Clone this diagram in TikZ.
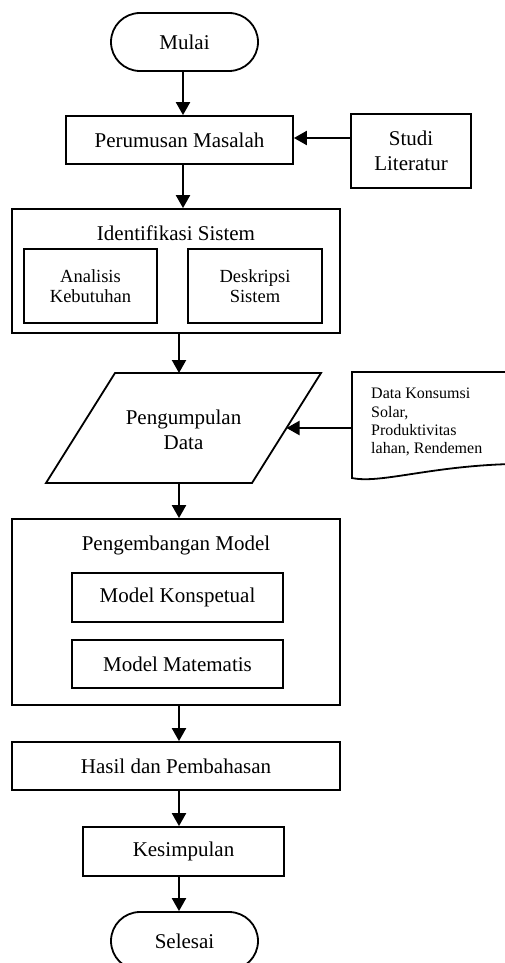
\documentclass[tikz,border=0pt]{standalone}
\usepackage{fontspec}
\setmainfont{Liberation Serif}
\usetikzlibrary{arrows.meta}
\tikzset{
  mainfont/.style={font=\fontsize{21}{25.5}\selectfont},
  box/.style={draw, line width=1.8pt, inner sep=0pt, align=center, mainfont},
  smallbox/.style={draw, line width=1.8pt, inner sep=0pt, align=center, font=\fontsize{18.5}{20.5}\selectfont},
  term/.style={draw, line width=1.8pt, rounded corners=29pt, inner sep=0pt, minimum width=147pt, minimum height=58pt, mainfont},
  txt/.style={inner sep=0pt, align=center, mainfont},
  arr/.style={line width=2.2pt, -{Triangle[length=13pt,width=14pt]}},
  outline/.style={line width=1.8pt, line join=miter}
}
\begin{document}
\begin{tikzpicture}[x=1pt,y=-1pt]
\useasboundingbox (0,0) rectangle (505,963);
\clip (0,0) rectangle (505,963);
\coordinate (ay) at (183,0);
\coordinate (ax) at (179,0);
\coordinate (sy) at (0,138);

\node[term] (mulai) at (184.5,42) {Mulai};
\node[box, minimum width=227pt, minimum height=48pt] (rumus) at (179.5,140) {Perumusan Masalah};
\node[box, minimum width=120pt, minimum height=74pt] (studi) at (411,151) {Studi\\Literatur};

\node[box, minimum width=328pt, minimum height=124pt] (ident) at (176,271) {};
\node[txt] (identT) at (176,233) {Identifikasi Sistem};
\node[smallbox, minimum width=133pt, minimum height=74pt] (anal) at (90.5,286) {Analisis\\Kebutuhan};
\node[smallbox, minimum width=134pt, minimum height=74pt] (desk) at (255,286) {Deskripsi\\Sistem};

\coordinate (pTL) at (115,373);
\coordinate (pTR) at (321,373);
\coordinate (pBR) at (252,483);
\coordinate (pBL) at (46,483);
\draw[outline] (pTL) -- (pTR) -- (pBR) -- (pBL) -- cycle;
\node[txt] (pd) at (183.5,430) {Pengumpulan\\Data};

\coordinate (dTL) at (352,372);
\coordinate (dTR) at (512,372);
\coordinate (dBR) at (512,464);
\coordinate (dBL) at (352,478);
\draw[outline] (dBR) -- (dTR) -- (dTL) -- (dBL) .. controls (380,484) and (430,466) .. (dBR);
\node[inner sep=0pt, align=left, anchor=north west, font=\fontsize{16}{18.3}\selectfont] (dtext) at (371,388)
  {Data Konsumsi\\Solar,\\Produktivitas\\lahan, Rendemen};
\coordinate (dL) at (352,428);
\coordinate (pR) at (286.5,428);

\node[box, minimum width=328pt, minimum height=186pt] (dev) at (176,612) {};
\node[txt] (devT) at (176,545) {Pengembangan Model};
\node[box, minimum width=211pt, minimum height=49pt] (konsep) at (177.5,597.5) {Model Konspetual};
\node[box, minimum width=211pt, minimum height=48pt] (mate) at (177.5,664) {Model Matematis};

\node[box, minimum width=328pt, minimum height=48pt] (hasil) at (176,766) {Hasil dan Pembahasan};
\node[box, minimum width=201pt, minimum height=49pt] (kes) at (183.5,851.5) {Kesimpulan};
\node[term] (sel) at (184.5,941) {Selesai};

\draw[arr] (ay |- mulai.south) -- (ay |- rumus.north);
\draw[arr] (studi.west |- sy) -- (rumus.east |- sy);
\draw[arr] (ay |- rumus.south) -- (ay |- ident.north);
\draw[arr] (ax |- ident.south) -- (ax |- pTL);
\draw[arr] (dL) -- (pR);
\draw[arr] (ax |- pBL) -- (ax |- dev.north);
\draw[arr] (ax |- dev.south) -- (ax |- hasil.north);
\draw[arr] (ax |- hasil.south) -- (ax |- kes.north);
\draw[arr] (ax |- kes.south) -- (ax |- sel.north);
\end{tikzpicture}
\end{document}
